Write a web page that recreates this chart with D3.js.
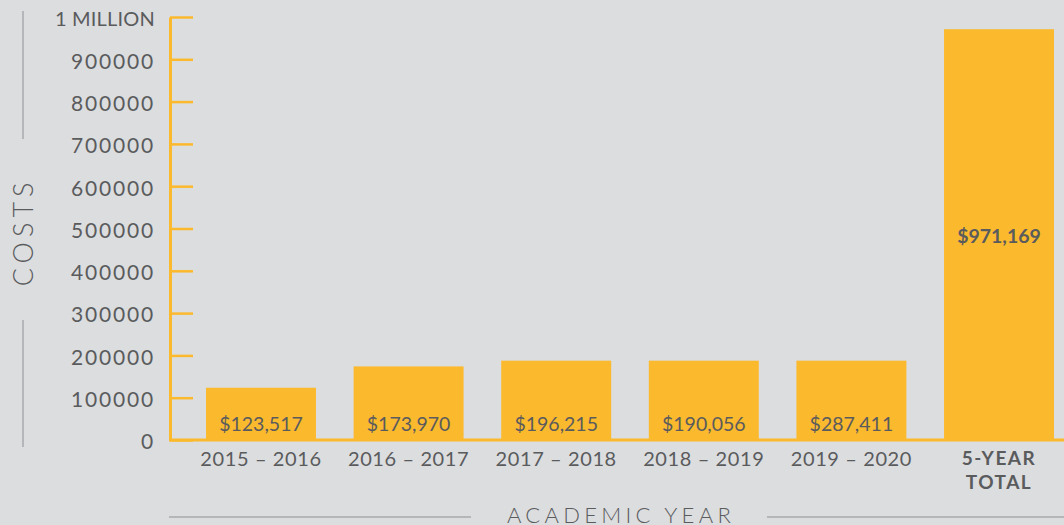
<!DOCTYPE html>
<html lang="en">
<head>
    <meta charset="utf-8">
    <title>Costs by Academic Year</title>
    <style>
        body { margin: 0; background: #dcdddf; }
        svg { display: block; font-family: Lato, "Open Sans", sans-serif; }
        .tick text { fill: #5a5b5d; font-size: 21px; letter-spacing: 1.8px; }
        .cat { fill: #5a5b5d; font-size: 20px; letter-spacing: 0.6px; }
        .val { fill: #5a5b5d; font-size: 19.5px; }
    </style>
</head>
<body>
<script src="https://cdn.jsdelivr.net/npm/d3@7/dist/d3.min.js"></script>
<script>
    // categories and values
    const years = ["2015 – 2016", "2016 – 2017", "2017 – 2018", "2018 – 2019", "2019 – 2020", "5-YEAR TOTAL"];
    const barHeights = [123517, 173970, 187500, 187500, 187500, 971169];
    const barLabels = ["$123,517", "$173,970", "$196,215", "$190,056", "$287,411", "$971,169"];
    const yTicks = [0, 100000, 200000, 300000, 400000, 500000, 600000, 700000, 800000, 900000, 1000000];

    const width = 1064, height = 525;
    const orange = "#fbb92e", textColor = "#5a5b5d", grey = "#a7a9ac";

    const svg = d3.select("body").append("svg")
        .attr("width", width)
        .attr("height", height);

    svg.append("rect").attr("width", width).attr("height", height).attr("fill", "#dcdddf");

    const x = d3.scaleBand()
        .domain(years)
        .range([170, 1090])
        .paddingInner(0.255)
        .paddingOuter(0.244);

    const y = d3.scaleLinear()
        .domain([0, 1000000])
        .range([440, 17]);

    // bars
    svg.append("g").selectAll("rect")
        .data(years)
        .join("rect")
        .attr("x", d => x(d))
        .attr("width", x.bandwidth())
        .attr("y", (d, i) => y(barHeights[i]))
        .attr("height", (d, i) => y(0) - y(barHeights[i]))
        .attr("fill", orange);

    // value labels inside the bars
    svg.append("g").selectAll("text")
        .data(years)
        .join("text")
        .attr("class", "val")
        .attr("x", d => x(d) + x.bandwidth() / 2)
        .attr("y", (d, i) => i === years.length - 1 ? (y(barHeights[i]) + y(0)) / 2 + 8 : y(0) - 9)
        .attr("text-anchor", "middle")
        .attr("font-weight", (d, i) => i === years.length - 1 ? 700 : 400)
        .text((d, i) => barLabels[i]);

    // y axis, ticks pointing into the plot
    const yAxis = d3.axisLeft(y)
        .tickValues(yTicks)
        .tickSize(-23)
        .tickSizeOuter(0)
        .tickPadding(15)
        .tickFormat(d => d === 1000000 ? "1 MILLION" : d3.format("d")(d));

    const gy = svg.append("g")
        .attr("transform", "translate(170,0)")
        .call(yAxis)
        .attr("font-family", null)
        .attr("font-size", null);
    gy.select(".domain").attr("stroke", orange).attr("stroke-width", 3);
    gy.selectAll(".tick line").attr("stroke", orange).attr("stroke-width", 2.5);
    gy.selectAll(".tick text").attr("dy", "0.42em")
        .style("letter-spacing", d => d === 1000000 ? "0.2px" : "1.8px")
        .style("font-size", d => d === 1000000 ? "20px" : "21px");

    // baseline across the whole width
    svg.append("line")
        .attr("x1", 169).attr("x2", width)
        .attr("y1", y(0)).attr("y2", y(0))
        .attr("stroke", orange).attr("stroke-width", 3);

    // category labels
    const cats = svg.append("g");
    years.forEach((d, i) => {
        const cx = x(d) + x.bandwidth() / 2;
        if (i === years.length - 1) {
            const t = cats.append("text")
                .attr("class", "cat")
                .attr("text-anchor", "middle")
                .style("font-weight", 700)
                .style("font-size", "19px")
                .style("letter-spacing", "1.5px");
            t.append("tspan").attr("x", cx).attr("y", 465).text("5-YEAR");
            t.append("tspan").attr("x", cx).attr("y", 489).text("TOTAL");
        } else {
            cats.append("text")
                .attr("class", "cat")
                .attr("x", cx)
                .attr("y", 466)
                .attr("text-anchor", "middle")
                .text(d);
        }
    });

    // axis titles with grey rules
    svg.append("text")
        .attr("transform", "translate(33,232) rotate(-90)")
        .attr("text-anchor", "middle")
        .attr("fill", textColor)
        .style("font-size", "27px")
        .style("font-weight", 300)
        .style("letter-spacing", "5px")
        .text("COSTS");

    svg.append("line").attr("x1", 23).attr("x2", 23).attr("y1", 11).attr("y2", 139)
        .attr("stroke", grey).attr("stroke-width", 1.5);
    svg.append("line").attr("x1", 23).attr("x2", 23).attr("y1", 320).attr("y2", 447)
        .attr("stroke", grey).attr("stroke-width", 1.5);

    svg.append("text")
        .attr("x", 621)
        .attr("y", 523)
        .attr("text-anchor", "middle")
        .attr("fill", textColor)
        .style("font-size", "22px")
        .style("font-weight", 300)
        .style("letter-spacing", "4.3px")
        .text("ACADEMIC YEAR");

    svg.append("line").attr("x1", 169).attr("x2", 471).attr("y1", 517).attr("y2", 517)
        .attr("stroke", grey).attr("stroke-width", 1.5);
    svg.append("line").attr("x1", 767).attr("x2", width).attr("y1", 517).attr("y2", 517)
        .attr("stroke", grey).attr("stroke-width", 1.5);
</script>
</body>
</html>
